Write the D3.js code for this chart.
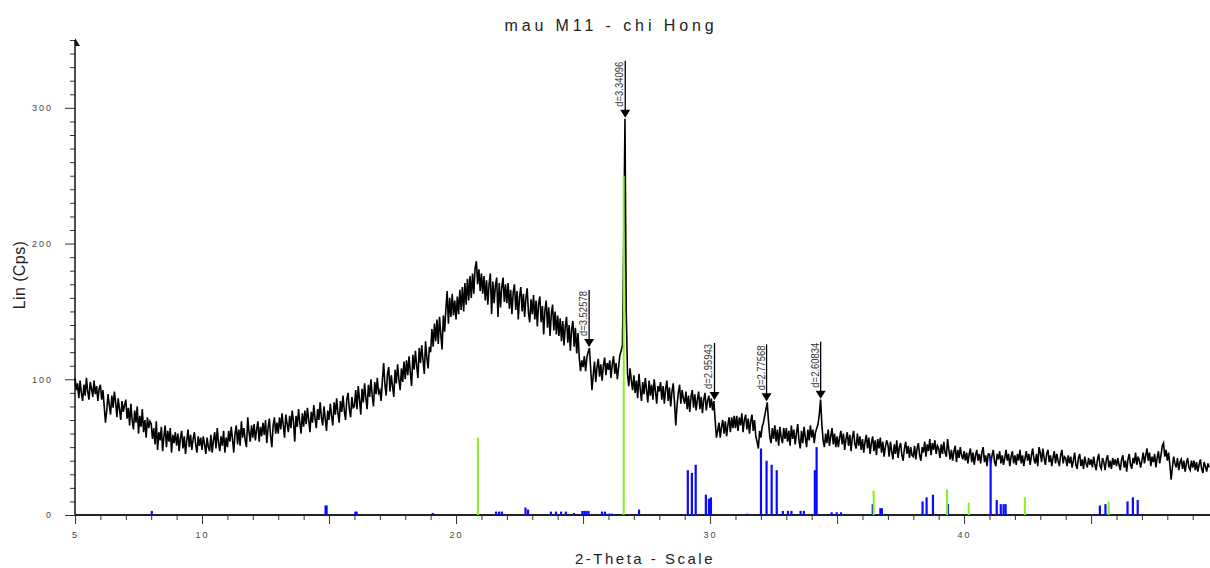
<!DOCTYPE html>
<html>
<head>
<meta charset="utf-8">
<script src="https://cdn.jsdelivr.net/npm/d3@7"></script>
<style>
  body { margin: 0; background: #fff; }
  svg { display: block; }
  text { font-family: "Liberation Sans", Arial, sans-serif; }
</style>
</head>
<body>
<svg id="chart" width="1210" height="568"></svg>
<script>
// Scan settings: 2-theta start and step (degrees)
const scanStart = 5.0;
const scanStep = 0.05;

// Measured intensity (Lin, Cps), one row per degree of 2-theta
const counts = [
  101, 92, 97, 86, 99, 90, 84, 96, 88, 101, 91, 85, 98, 93, 87, 99, 89, 95, 84, 93,
  96, 85, 92, 80, 68, 77, 89, 81, 74, 88, 79, 91, 83, 72, 86, 78, 70, 84, 76, 81,
  85, 71, 79, 66, 82, 70, 63, 77, 68, 80, 60, 73, 65, 78, 61, 70, 57, 72, 64, 69,
  67, 56, 64, 52, 69, 48, 61, 55, 65, 47, 58, 66, 50, 62, 54, 64, 46, 59, 53, 61,
  51, 60, 47, 57, 62, 49, 58, 45, 55, 63, 50, 59, 48, 56, 61, 52, 46, 58, 51, 57,
  48, 58, 52, 45, 57, 50, 47, 59, 46, 55, 61, 49, 64, 53, 47, 58, 51, 62, 46, 57,
  50, 62, 54, 65, 56, 46, 60, 66, 52, 63, 51, 69, 57, 64, 55, 50, 72, 61, 54, 66,
  57, 67, 55, 63, 69, 54, 65, 58, 68, 59, 70, 53, 64, 71, 58, 50, 66, 72, 60, 68,
  60, 72, 63, 75, 66, 57, 74, 67, 61, 73, 64, 77, 69, 54, 73, 65, 78, 68, 60, 75,
  65, 77, 67, 79, 70, 61, 76, 68, 81, 71, 64, 78, 70, 83, 72, 66, 80, 71, 62, 77,
  70, 82, 73, 66, 83, 74, 86, 75, 68, 84, 76, 88, 77, 70, 85, 90, 78, 72, 87, 79,
  80, 92, 78, 95, 85, 74, 93, 83, 97, 86, 78, 96, 87, 100, 88, 80, 98, 89, 101, 90,
  92, 84, 99, 112, 96, 88, 104, 109, 91, 103, 95, 87, 107, 97, 111, 100, 92, 108, 98, 113,
  100, 114, 103, 117, 105, 95, 118, 107, 121, 110, 101, 123, 112, 125, 114, 104, 128, 116, 108, 124,
  120, 137, 124, 141, 128, 144, 126, 146, 133, 122, 147, 135, 152, 165, 141, 160, 146, 163, 147, 158,
  144, 161, 148, 166, 151, 168, 150, 171, 155, 174, 158, 176, 160, 178, 163, 182, 187, 170, 181, 165,
  178, 163, 176, 158, 173, 155, 170, 178, 148, 172, 156, 169, 175, 146, 171, 153, 168, 175, 157, 170,
  156, 171, 152, 166, 148, 164, 170, 151, 165, 144, 161, 168, 150, 163, 146, 160, 167, 149, 142, 159,
  148, 162, 144, 158, 139, 156, 161, 142, 154, 133, 151, 158, 138, 153, 132, 148, 155, 136, 150, 133,
  147, 132, 145, 128, 143, 125, 139, 146, 127, 140, 121, 137, 143, 124, 138, 119, 134, 116, 106, 114,
  109, 117, 106, 116, 120, 123, 108, 92, 103, 113, 98, 109, 115, 102, 111, 99, 110, 116, 103, 112,
  107, 114, 101, 111, 117, 104, 112, 100, 109, 118, 121, 125, 200, 292, 150, 104, 95, 108, 99, 92,
  103, 90, 99, 86, 104, 93, 84, 98, 89, 101, 92, 83, 99, 88, 96, 85, 100, 91, 82, 95,
  91, 98, 85, 95, 82, 93, 99, 84, 94, 80, 91, 97, 83, 66, 81, 90, 96, 82, 92, 86,
  82, 91, 78, 88, 76, 87, 92, 79, 89, 77, 85, 91, 78, 87, 75, 85, 90, 77, 84, 88,
  79, 86, 77, 84, 70, 57, 62, 68, 57, 65, 70, 60, 69, 58, 66, 72, 61, 72, 64, 73,
  64, 73, 62, 72, 66, 75, 61, 70, 74, 63, 71, 60, 69, 74, 62, 70, 58, 54, 49, 62,
  57, 65, 68, 73, 78, 83, 69, 58, 53, 64, 56, 66, 54, 63, 51, 65, 57, 53, 64, 56,
  64, 54, 62, 51, 66, 56, 63, 52, 60, 67, 55, 49, 62, 53, 65, 57, 50, 63, 55, 66,
  57, 63, 53, 61, 64, 67, 74, 85, 67, 55, 50, 60, 53, 63, 51, 58, 64, 52, 60, 50,
  58, 50, 57, 62, 52, 60, 48, 56, 61, 51, 59, 47, 57, 62, 52, 49, 60, 51, 58, 48,
  56, 46, 54, 59, 49, 57, 45, 53, 58, 47, 55, 44, 56, 49, 57, 46, 54, 43, 50, 55,
  52, 43, 54, 47, 41, 52, 45, 55, 42, 50, 53, 44, 40, 49, 54, 45, 51, 42, 50, 44,
  43, 51, 41, 49, 53, 44, 40, 50, 46, 54, 43, 52, 47, 56, 44, 53, 48, 55, 45, 51,
  49, 42, 52, 45, 54, 46, 43, 56, 48, 41, 48, 40, 47, 51, 39, 48, 42, 50, 44, 41,
  47, 40, 46, 38, 45, 49, 39, 46, 37, 44, 48, 40, 45, 38, 46, 50, 39, 44, 36, 45,
  45, 38, 44, 48, 39, 36, 45, 41, 47, 38, 44, 37, 42, 48, 40, 45, 36, 43, 47, 38,
  44, 37, 45, 40, 48, 38, 44, 36, 42, 47, 40, 45, 37, 44, 49, 41, 38, 45, 36, 50,
  46, 39, 49, 42, 37, 45, 48, 39, 44, 36, 42, 47, 38, 45, 40, 36, 44, 48, 38, 43,
  42, 36, 44, 38, 43, 35, 40, 46, 37, 34, 42, 45, 36, 41, 34, 43, 38, 35, 42, 37,
  41, 35, 43, 37, 33, 41, 45, 36, 34, 42, 39, 33, 41, 44, 35, 40, 34, 42, 37, 41,
  36, 42, 37, 33, 41, 44, 35, 40, 32, 41, 45, 37, 34, 42, 38, 46, 37, 43, 40, 35,
  40, 46, 38, 44, 49, 40, 46, 36, 43, 39, 45, 35, 42, 47, 38, 44, 51, 53, 43, 48,
  40, 46, 37, 26, 35, 43, 38, 35, 42, 33, 39, 41, 34, 40, 32, 38, 42, 35, 33, 40,
  35, 40, 33, 39, 32, 37, 41, 34, 31, 39, 36, 32, 38, 35
];

// Reference pattern 1 (blue sticks): 2-theta and intensity
const blueAngle = [8.02, 14.86, 14.9, 16.03, 16.08, 19.08, 21.57, 21.69, 21.8, 22.73, 22.83,
  23.73, 23.93, 24.13, 24.32, 24.64, 24.97, 25.05, 25.13, 25.21, 25.74, 25.86, 26.02, 26.13,
  27.2, 29.12, 29.28, 29.43, 29.83, 29.95, 30.03, 31.45, 32.0, 32.22, 32.42, 32.62,
  32.86, 33.06, 33.2, 33.56, 33.69, 34.12, 34.19, 34.78, 34.98, 35.15,
  36.4, 36.7, 36.76, 38.36, 38.52, 38.77, 39.36, 41.04, 41.28, 41.44, 41.55, 41.63,
  45.34, 45.56, 46.43, 46.64, 46.83];
const blueLin = [3, 7, 7, 2.5, 2.5, 1.5, 2.5, 2.5, 2.5, 5.5, 4,
  2.5, 2.5, 2.5, 2.5, 1.5, 3, 3, 3, 3, 2.5, 2.5, 1, 1,
  4, 33, 31, 37, 15, 12, 13, 1, 49, 40, 37, 33,
  3, 3, 3, 3, 3, 33, 50, 2, 2, 2,
  8, 5, 5, 10, 13, 15, 8, 42, 11, 8, 8, 8,
  7, 8, 10, 13, 11];

// Reference pattern 2 (green sticks)
const greenAngle = [20.86, 26.6, 36.44, 39.33, 40.18, 42.39, 45.69];
const greenLin = [57, 250, 18, 19, 9, 13, 10];

// Labelled peaks (d-spacing in Angstrom, Cu K-alpha)
const peakD = [3.52578, 3.34096, 2.95943, 2.77568, 2.60834];
const wavelength = 1.5406;

// Axis labels
const xTickLabels = [5, 10, 20, 30, 40];
const yTickLabels = [0, 100, 200, 300];

const svg = d3.select("#chart");
const x = d3.scaleLinear().domain([5, 49.68]).range([75, 1210]);
const y = d3.scaleLinear().domain([0, 350]).range([515, 40]);

const twoTheta = (i) => scanStart + i * scanStep;

// Title and axis titles
svg.append("text").attr("x", 611).attr("y", 31).attr("text-anchor", "middle")
  .attr("font-size", 16).attr("letter-spacing", 3.9).attr("fill", "#222")
  .text("mau M11 - chi Hong");
svg.append("text").attr("transform", "translate(25,275) rotate(-90)")
  .attr("text-anchor", "middle").attr("font-size", 16).attr("letter-spacing", 0.4)
  .attr("fill", "#222")
  .text("Lin (Cps)");
svg.append("text").attr("x", 645).attr("y", 564).attr("text-anchor", "middle")
  .attr("font-size", 15).attr("letter-spacing", 2.5).attr("fill", "#222")
  .text("2-Theta - Scale");

// X axis
const xAxis = d3.axisBottom(x)
  .tickValues(d3.range(5, 50, 1))
  .tickSize(5)
  .tickFormat(d => xTickLabels.includes(d) ? String(d) : "");
const gx = svg.append("g").attr("transform", "translate(0,515)").call(xAxis);
gx.select(".domain").remove();
gx.selectAll(".tick line").attr("stroke", "#333")
  .attr("y2", d => d % 5 === 0 ? 9 : 5);
gx.selectAll(".tick text").attr("y", 17).attr("font-size", 9)
  .attr("letter-spacing", 2).attr("fill", "#444")
  .attr("font-family", "'Liberation Sans', Arial, sans-serif");

// Y axis
const yAxis = d3.axisLeft(y)
  .tickValues(d3.range(0, 351, 10))
  .tickSize(5)
  .tickFormat(d => yTickLabels.includes(d) ? String(d) : "");
const gy = svg.append("g").attr("transform", "translate(75,0)").call(yAxis);
gy.select(".domain").remove();
gy.selectAll(".tick line").attr("stroke", "#333")
  .attr("x2", d => d % 100 === 0 ? -10 : -5);
gy.selectAll(".tick text").attr("x", -22).attr("font-size", 9)
  .attr("letter-spacing", 2).attr("fill", "#444")
  .attr("font-family", "'Liberation Sans', Arial, sans-serif");

// Axis lines and the arrow head
svg.append("line").attr("x1", 75).attr("x2", 75).attr("y1", y(350)).attr("y2", y(0))
  .attr("stroke", "#111").attr("stroke-width", 1.5);
svg.append("path").attr("d", `M75,${y(350) - 2} L80,${y(350) + 6} L75,${y(350) + 6} Z`)
  .attr("fill", "#111");
svg.append("line").attr("x1", 75).attr("x2", 1210).attr("y1", y(0)).attr("y2", y(0))
  .attr("stroke", "#222").attr("stroke-width", 2.2);

// Diffraction trace
const line = d3.line()
  .x((d, i) => x(twoTheta(i)))
  .y(d => y(d));
svg.append("path").datum(counts).attr("d", line)
  .attr("fill", "none").attr("stroke", "#000").attr("stroke-width", 1.6)
  .attr("stroke-linejoin", "miter");

// Reference sticks
const sticks = svg.append("g");
sticks.selectAll("rect.blue").data(blueAngle).join("rect")
  .attr("class", "blue")
  .attr("x", d => x(d) - 1).attr("width", 2.2)
  .attr("y", (d, i) => y(blueLin[i]))
  .attr("height", (d, i) => y(0) - y(blueLin[i]))
  .attr("fill", "#0a0aff");
sticks.selectAll("rect.green").data(greenAngle).join("rect")
  .attr("class", "green")
  .attr("x", d => x(d) - 1).attr("width", 2)
  .attr("y", (d, i) => y(greenLin[i]))
  .attr("height", (d, i) => y(0) - y(greenLin[i]))
  .attr("fill", "#86f01c");

// Peak markers: 2-theta from Bragg's law, height from the trace maximum nearby
const markers = svg.append("g");
peakD.forEach(d => {
  const tt = 2 * Math.asin(wavelength / (2 * d)) * 180 / Math.PI;
  let best = 0;
  counts.forEach((c, i) => {
    if (Math.abs(twoTheta(i) - tt) <= 0.08 && c > best) best = c;
  });
  const px = x(tt), tip = y(best) - 1, top = tip - 57;
  markers.append("line").attr("x1", px).attr("x2", px).attr("y1", top).attr("y2", tip - 6)
    .attr("stroke", "#000").attr("stroke-width", 1.3);
  markers.append("path").attr("d", `M${px - 5},${tip - 8} L${px + 5},${tip - 8} L${px},${tip} Z`)
    .attr("fill", "#000");
  markers.append("text")
    .attr("transform", `translate(${px - 2},${top + 1}) rotate(-90)`)
    .attr("text-anchor", "end").attr("font-size", 11).attr("fill", "#333")
    .attr("textLength", 45).attr("lengthAdjust", "spacingAndGlyphs")
    .text("d=" + d.toFixed(5));
});
</script>
</body>
</html>
